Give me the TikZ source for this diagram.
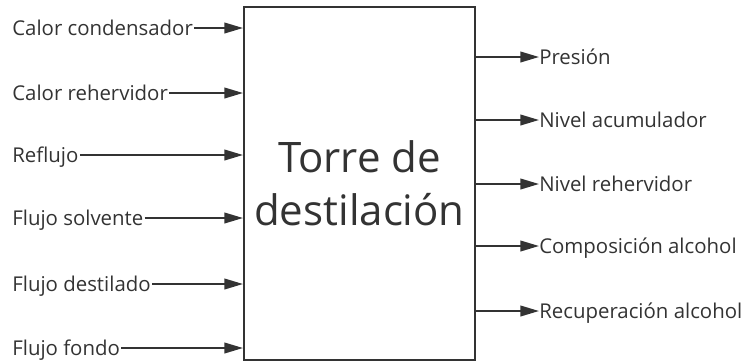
\documentclass[tikz,border=0pt]{standalone}
\usepackage{fontspec}
\setmainfont{Open Sans}
\usetikzlibrary{arrows.meta}
\definecolor{ink}{HTML}{333333}
\begin{document}
\begin{tikzpicture}[x=0.75pt,y=-0.75pt,
  lab/.style={font=\fontsize{15.3}{18}\selectfont, text=ink, inner sep=0.8pt, text height=10.9pt, text depth=0pt},
  arr/.style={draw=ink, line width=1.4pt, -{Triangle[length=14pt,width=8pt]}},
  tower/.style={draw=ink, line width=1.5pt, minimum width=231*0.75pt, minimum height=353*0.75pt, inner sep=0pt,
    align=center, text=ink, font=\fontsize{31.5}{39.75}\selectfont}]
\useasboundingbox (0,0) rectangle (747,362);
\node[tower] (T) at (359.5,183.5) {Torre de\\destilación};
% inputs
\node[lab, anchor=west] (i1) at (11,28) {Calor condensador};
\node[lab, anchor=west] (i2) at (11,93) {Calor rehervidor};
\node[lab, anchor=west] (i3) at (11,155) {Reflujo};
\node[lab, anchor=west] (i4) at (11,218) {Flujo solvente};
\node[lab, anchor=west] (i5) at (11,284) {Flujo destilado};
\node[lab, anchor=west] (i6) at (11,348) {Flujo fondo};
\foreach \n in {i1,i2,i3,i4,i5,i6} \draw[arr] (\n.east) -- (\n.east -| T.west);
% outputs
\node[lab, anchor=west, inner xsep=0pt] (o1) at (539,57) {Presión};
\node[lab, anchor=west, inner xsep=0pt] (o2) at (539,120) {Nivel acumulador};
\node[lab, anchor=west, inner xsep=0pt] (o3) at (539,184) {Nivel rehervidor};
\node[lab, anchor=west, inner xsep=0pt] (o4) at (539,246) {Composición alcohol};
\node[lab, anchor=west, inner xsep=0pt] (o5) at (539,311) {Recuperación alcohol};
\foreach \n in {o1,o2,o3,o4,o5} \draw[arr] (\n.west -| T.east) -- (\n.west);
\end{tikzpicture}
\end{document}
